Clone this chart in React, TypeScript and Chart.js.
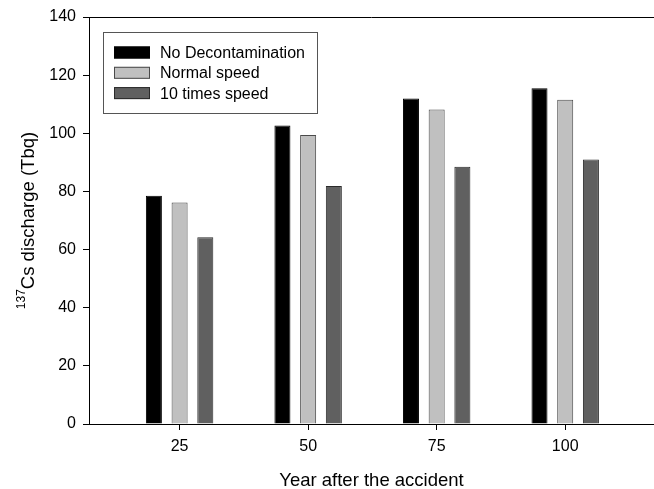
import React, { useEffect, useRef } from "react";
import { Chart, registerables } from "chart.js";

Chart.register(...registerables);

const years = [25, 50, 75, 100];
const noDecon = [78.5, 102.7, 112.0, 115.5];
const normalSpeed = [76.2, 99.4, 108.2, 111.5];
const tenTimes = [64.2, 81.9, 88.5, 91.0];
const seriesLabels = ["No Decontamination", "Normal speed", "10 times speed"];
const yTicks = [0, 20, 40, 60, 80, 100, 120, 140];
const xTitle = "Year after the accident";
const yTitleSup = "137";
const yTitleMain = "Cs discharge (Tbq)";

const FONT = "'Liberation Sans', Arial, sans-serif";

const extras = {
  id: "extras",
  afterDraw(chart: any) {
    const ctx = chart.ctx;
    const a = chart.chartArea;
    ctx.save();
    // top frame line
    ctx.strokeStyle = "#000";
    ctx.lineWidth = 1;
    ctx.beginPath();
    ctx.moveTo(a.left, a.top + 0.5);
    ctx.lineTo(a.right, a.top + 0.5);
    ctx.stroke();

    // legend
    const lx = 103, ly = 32, lw = 214, lh = 81;
    ctx.strokeStyle = "#555";
    ctx.strokeRect(lx + 0.5, ly + 0.5, lw, lh);
    ctx.font = "16px " + FONT;
    ctx.textBaseline = "middle";
    ctx.textAlign = "left";
    chart.data.datasets.forEach((ds: any, i: number) => {
      const cy = 52.5 + i * 20.3;
      ctx.fillStyle = ds.backgroundColor;
      ctx.fillRect(114, cy - 6, 36, 12);
      ctx.strokeStyle = ds.borderColor;
      ctx.strokeRect(114.5, cy - 5.5, 35, 11);
      ctx.fillStyle = "#000";
      ctx.fillText(ds.label, 160, cy + 1);
    });

    // x title
    ctx.font = "18.5px " + FONT;
    ctx.textAlign = "center";
    ctx.textBaseline = "alphabetic";
    ctx.fillStyle = "#000";
    ctx.fillText(xTitle, (a.left + a.right) / 2, 486);

    // y title (rotated) with superscript
    const cy = (a.top + a.bottom) / 2;
    ctx.translate(34, cy);
    ctx.rotate(-Math.PI / 2);
    ctx.font = "12px " + FONT;
    const wSup = ctx.measureText(yTitleSup).width;
    ctx.font = "18.5px " + FONT;
    const wMain = ctx.measureText(yTitleMain).width;
    const start = -(wSup + wMain) / 2;
    ctx.textAlign = "left";
    ctx.font = "12px " + FONT;
    ctx.fillText(yTitleSup, start, -9);
    ctx.font = "18.5px " + FONT;
    ctx.fillText(yTitleMain, start + wSup, 0);
    ctx.restore();
  },
};

export default function App() {
  const ref = useRef<HTMLCanvasElement>(null);
  useEffect(() => {
    if (!ref.current) return;
    const mk = (vals: number[]) => vals.map((v, i) => ({ x: years[i], y: v }));
    const chart = new Chart(ref.current, {
      type: "bar",
      data: {
        datasets: [
          { label: seriesLabels[0], data: mk(noDecon), backgroundColor: "#000000", borderColor: "#000000", borderWidth: 1 },
          { label: seriesLabels[1], data: mk(normalSpeed), backgroundColor: "#c0c0c0", borderColor: "#4a4a4a", borderWidth: 1 },
          { label: seriesLabels[2], data: mk(tenTimes), backgroundColor: "#606060", borderColor: "#2a2a2a", borderWidth: 1 },
        ] as any,
      },
      options: {
        animation: false,
        responsive: true,
        maintainAspectRatio: false,
        layout: { padding: { top: 17, right: 0, left: 0, bottom: 0 } },
        datasets: { bar: { categoryPercentage: 0.6, barPercentage: 0.623, grouped: true } } as any,
        plugins: { legend: { display: false }, tooltip: { enabled: false } },
        scales: {
          x: {
            type: "linear",
            min: 7.38,
            max: 117.27,
            offset: false,
            afterFit: (s: any) => { s.height = 65; },
            afterBuildTicks: (s: any) => { s.ticks = years.map((v) => ({ value: v })); },
            grid: { drawOnChartArea: false, drawTicks: true, tickLength: 6, color: "#000", offset: false },
            border: { display: true, color: "#000", width: 1 },
            ticks: { color: "#000", font: { family: FONT, size: 16 }, padding: 7, maxRotation: 0, autoSkip: false },
          },
          y: {
            min: 0,
            max: 140,
            afterFit: (s: any) => { s.width = 89; },
            afterBuildTicks: (s: any) => { s.ticks = yTicks.map((v) => ({ value: v })); },
            grid: { drawOnChartArea: false, drawTicks: true, tickLength: 6, color: "#000" },
            border: { display: true, color: "#000", width: 1 },
            ticks: { color: "#000", font: { family: FONT, size: 16 }, padding: 7 },
          },
        },
      },
      plugins: [extras],
    } as any);
    return () => chart.destroy();
  }, []);
  return (
    <div style={{ position: "absolute", left: 0, top: 0, width: 654, height: 489, background: "#fff" }}>
      <canvas ref={ref} />
    </div>
  );
}
